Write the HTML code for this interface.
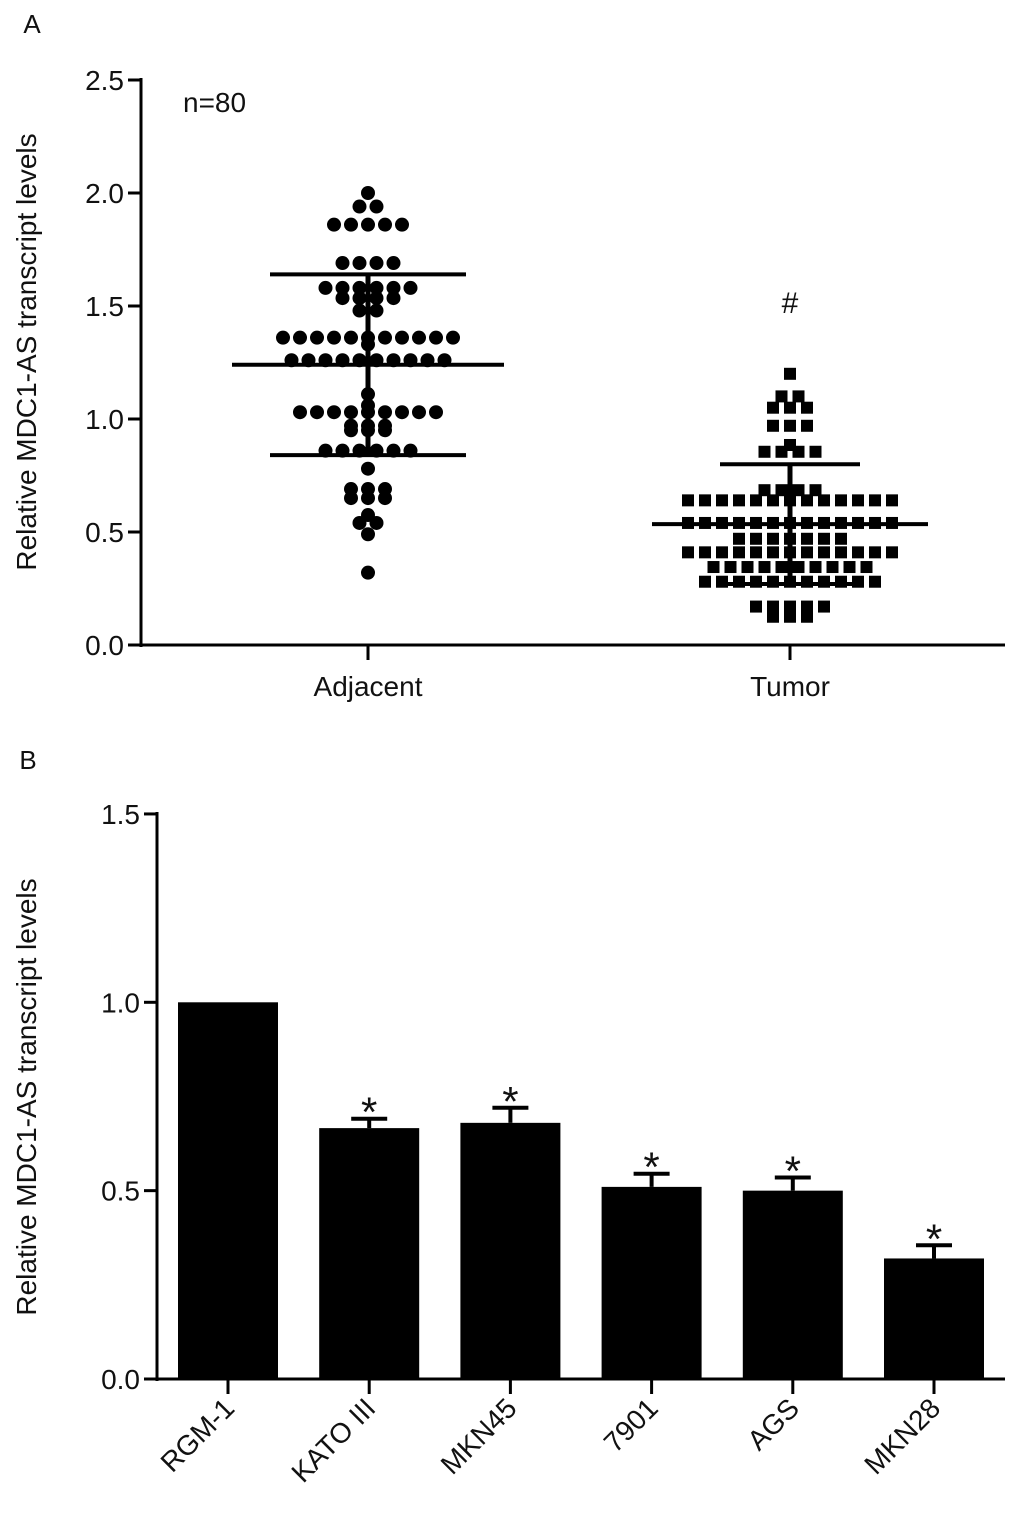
<!DOCTYPE html>
<html><head><meta charset="utf-8"><style>
body{margin:0;background:#fff}
svg text{font-family:"Liberation Sans",Arial,sans-serif;fill:#111}
</style></head><body>
<svg id="c" width="1022" height="1526" xmlns="http://www.w3.org/2000/svg"></svg>
<script>
// Panel A data
const groupsA = ["Adjacent","Tumor"];
const adjVals = [2.00,1.94,1.94,1.86,1.86,1.86,1.86,1.86,1.69,1.69,1.69,1.69,1.58,1.58,1.58,1.58,1.58,1.58,1.535,1.535,1.535,1.535,1.48,1.48,
1.36,1.36,1.36,1.36,1.36,1.36,1.36,1.36,1.36,1.36,1.36,1.33,1.26,1.26,1.26,1.26,1.26,1.26,1.26,1.26,1.26,1.26,1.11,1.06,
1.03,1.03,1.03,1.03,1.03,1.03,1.03,1.03,1.03,0.97,0.97,0.97,0.95,0.95,0.95,0.86,0.86,0.86,0.86,0.86,0.86,0.78,0.69,0.69,0.69,0.65,0.65,0.65,0.575,0.54,0.54,0.49,0.32];
const tumVals = [1.20,1.10,1.10,1.05,1.05,1.05,0.97,0.97,0.97,0.885,0.855,0.855,0.855,0.855,0.685,0.685,0.685,0.685,
0.64,0.64,0.64,0.64,0.64,0.64,0.64,0.64,0.64,0.64,0.64,0.64,0.64,0.54,0.54,0.54,0.54,0.54,0.54,0.54,0.54,0.54,0.54,0.54,0.54,0.54,
0.47,0.47,0.47,0.47,0.47,0.47,0.47,0.41,0.41,0.41,0.41,0.41,0.41,0.41,0.41,0.41,0.41,0.41,0.41,0.41,0.345,0.345,0.345,0.345,0.345,0.345,0.345,0.345,0.345,0.345,
0.28,0.28,0.28,0.28,0.28,0.28,0.28,0.28,0.28,0.28,0.28,0.17,0.17,0.17,0.17,0.17,0.125,0.125,0.125];
const meanA = [1.24,0.535];
const sdLowA = [0.84,0.27];
const sdHighA = [1.64,0.80];
const ticksA = ["0.0","0.5","1.0","1.5","2.0","2.5"];
// Panel B data
const cellLines = ["RGM-1","KATO III","MKN45","7901","AGS","MKN28"];
const barVals = [1.0,0.666,0.68,0.51,0.5,0.32];
const barErr = [0,0.025,0.04,0.035,0.035,0.035];
const barSig = [false,true,true,true,true,true];
const ticksB = ["0.0","0.5","1.0","1.5"];

const svg=document.getElementById('c');
const NS="http://www.w3.org/2000/svg";
function mk(tag,attrs,parent){const e=document.createElementNS(NS,tag);for(const k in attrs)e.setAttribute(k,attrs[k]);(parent||svg).appendChild(e);return e;}
function line(x1,y1,x2,y2,w,name){const e=mk('line',{x1,y1,x2,y2,stroke:'#000','stroke-width':w});

return e;}
function text(x,y,s,size,name,anchor,extra){const e=mk('text',Object.assign({x,y,'font-size':size,'text-anchor':anchor||'middle'},extra||{}));e.textContent=s;

return e;}

// ---- Panel A ----
const yA=v=>645-v*226;
const xA=[368,790];
text(32,33,"A",26,"panel-a-label","middle");
line(141,78,141,647,3,"y-axis-a");
line(140,645,1005,645,3,"x-axis-a");
ticksA.forEach((t,i)=>{const v=parseFloat(t);line(128,yA(v),141,yA(v),3,"y-tick-a");text(124,yA(v)+10,t,28,"y-tick-label-a","end");});
groupsA.forEach((g,i)=>{line(xA[i],645,xA[i],660,3,"x-tick-a");text(xA[i],696,g,28,"x-tick-label-a");});
text(36,352,"Relative MDC1-AS transcript levels",28,"y-axis-title-a","middle",{transform:"rotate(-90 36 352)"});
text(183,112,"n=80",28,"n-label","start");
text(790,313,"#",30,"significance-hash");
function swarm(vals,cx,drawFn){
  const groups={};vals.forEach(v=>{const k=v.toFixed(3);(groups[k]=groups[k]||[]).push(v);});
  Object.keys(groups).forEach(k=>{const arr=groups[k];const n=arr.length;
    arr.forEach((v,j)=>{const off=(j-(n-1)/2)*17;drawFn(cx+off,yA(v));});});
}
swarm(adjVals,xA[0],(x,y)=>{const e=mk('circle',{cx:x,cy:y,r:7,fill:'#000'});

});
swarm(tumVals,xA[1],(x,y)=>{const e=mk('rect',{x:x-6,y:y-6,width:12,height:12,fill:'#000'});

});
const meanHalf=[136,138], capHalf=[98,70];
groupsA.forEach((g,i)=>{
  line(xA[i]-meanHalf[i],yA(meanA[i]),xA[i]+meanHalf[i],yA(meanA[i]),4,"mean-line-"+g.toLowerCase());
  line(xA[i],yA(sdLowA[i]),xA[i],yA(sdHighA[i]),5,"sd-line-"+g.toLowerCase());
  line(xA[i]-capHalf[i],yA(sdHighA[i]),xA[i]+capHalf[i],yA(sdHighA[i]),4,"sd-cap-high");
  line(xA[i]-capHalf[i],yA(sdLowA[i]),xA[i]+capHalf[i],yA(sdLowA[i]),4,"sd-cap-low");
});

// ---- Panel B ----
const yB=v=>1379-v*376.7;
const xB=i=>228+i*141.2;
text(28,769,"B",26,"panel-b-label","middle");
line(157,812,157,1381,3,"y-axis-b");
line(156,1379,1005,1379,3,"x-axis-b");
ticksB.forEach(t=>{const v=parseFloat(t);line(144,yB(v),157,yB(v),3,"y-tick-b");text(140,yB(v)+10,t,28,"y-tick-label-b","end");});
text(36,1097,"Relative MDC1-AS transcript levels",28,"y-axis-title-b","middle",{transform:"rotate(-90 36 1097)"});
cellLines.forEach((c,i)=>{
  const x=xB(i);
  if(barErr[i]>0){line(x,yB(barVals[i]),x,yB(barVals[i]+barErr[i]),4,"error-bar");line(x-18,yB(barVals[i]+barErr[i]),x+18,yB(barVals[i]+barErr[i]),4,"error-cap");}
  const r=mk('rect',{x:x-50,y:yB(barVals[i]),width:100,height:1379-yB(barVals[i]),fill:'#000'});
  
  
  if(barSig[i])text(x,yB(barVals[i]+barErr[i])+8,"*",42,"significance-star");
  line(x,1379,x,1394,3,"x-tick-b");
  text(x+8,1410,c,28,"x-tick-label-b","end",{transform:`rotate(-45 ${x+8} 1410)`});
});
</script>
</body></html>
